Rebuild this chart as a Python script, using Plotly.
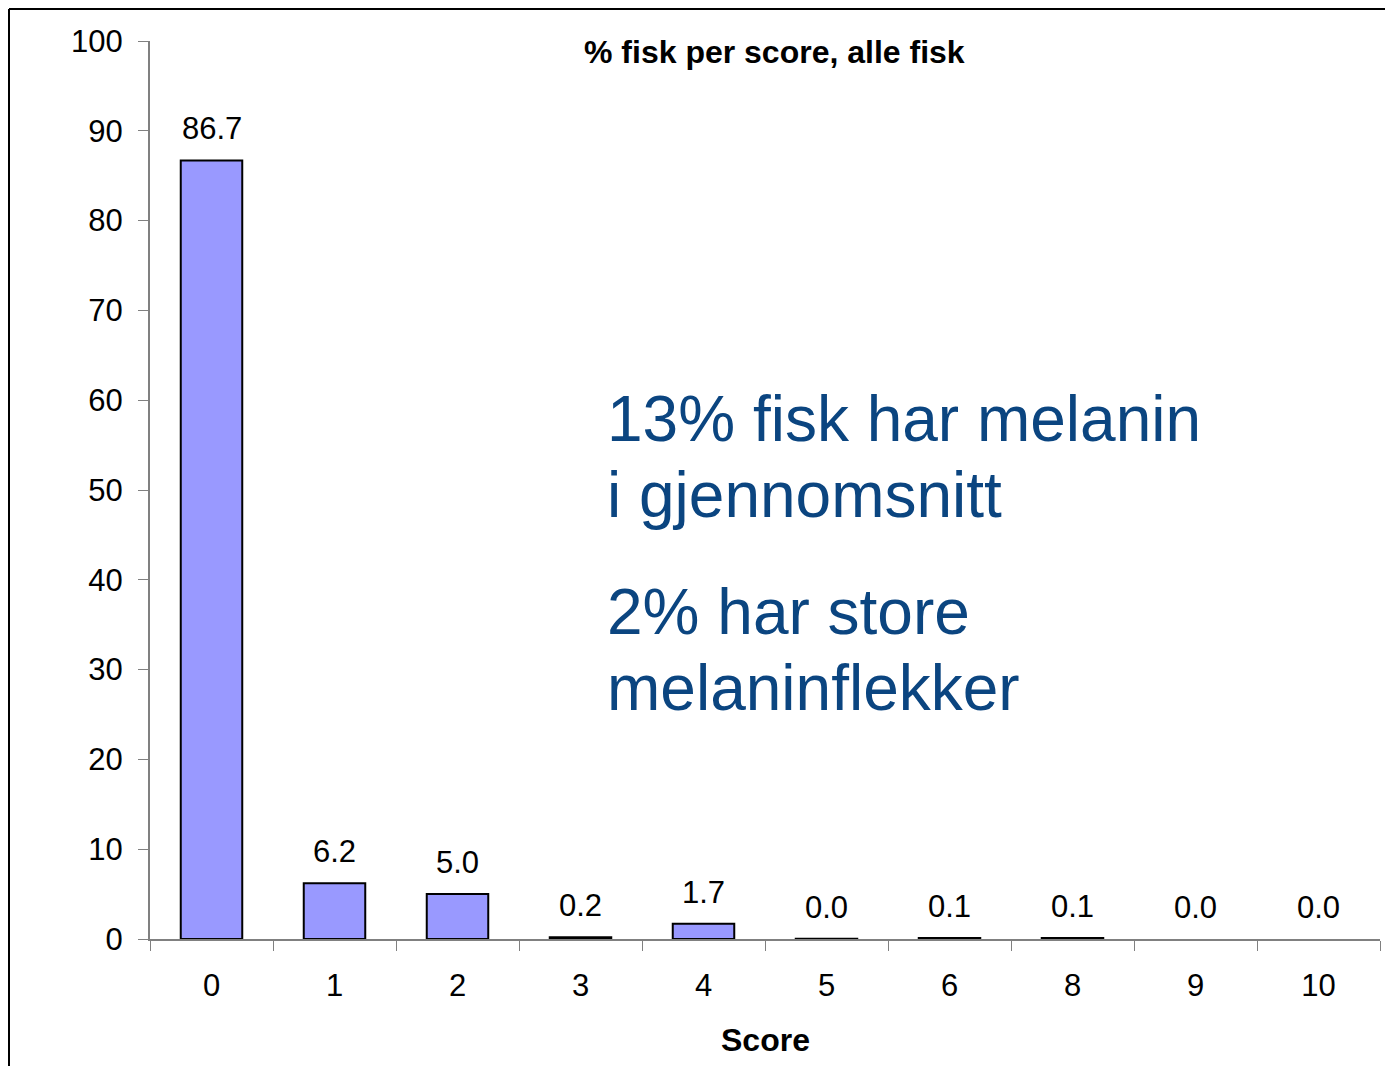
import plotly.graph_objects as go

categories = ["0", "1", "2", "3", "4", "5", "6", "8", "9", "10"]
values = [86.7, 6.2, 5.0, 0.2, 1.7, 0.04, 0.1, 0.1, 0.0, 0.0]
labels = ["86.7", "6.2", "5.0", "0.2", "1.7", "0.0", "0.1", "0.1", "0.0", "0.0"]
y_ticks = [0, 10, 20, 30, 40, 50, 60, 70, 80, 90, 100]

OFF = 8  # page body margin
W, H = 1393 - OFF, 1066 - OFF
L, T = 150 - OFF, 41 - OFF
pw, ph = 1230, 898
R, B = W - L - pw, H - T - ph

def sx(p):  # screen px -> paper x
    return (p - 150) / pw

def sy(p):  # screen px -> paper y
    return (939 - p) / ph

BLUE = "#0B4580"
FONT = "Liberation Sans, Arial"

fig = go.Figure(go.Bar(
    x=categories, y=values,
    marker=dict(color="#9999FF",
                line=dict(color="black", width=[2 if v > 0 else 0 for v in values])),
    width=0.5,
    hoverinfo="x+y",
))

annotations = []
for i, (v, t) in enumerate(zip(values, labels)):
    annotations.append(dict(
        x=i, y=v, xref="x", yref="y", text=t, showarrow=False,
        yanchor="bottom", xanchor="center", yshift=12,
        font=dict(size=31, color="black"),
    ))

annotations += [
    dict(text="<b>% fisk per score, alle fisk</b>", xref="paper", yref="paper",
         x=sx(774), y=sy(52), showarrow=False, font=dict(size=32),
         xanchor="center", yanchor="middle"),
    dict(text="<b>Score</b>", xref="paper", yref="paper",
         x=sx(765), y=sy(1040), showarrow=False, font=dict(size=32),
         xanchor="center", yanchor="middle"),
]
for txt, top in [("13% fisk har melanin", 381), ("i gjennomsnitt", 457),
                 ("2% har store", 574), ("melaninflekker", 650)]:
    annotations.append(dict(
        text=txt, xref="paper", yref="paper", x=sx(605), y=sy(top),
        showarrow=False, align="left", font=dict(size=64, color=BLUE),
        xanchor="left", yanchor="top",
    ))

fig.update_layout(
    width=W, height=H,
    margin=dict(l=L, r=R, t=T, b=B, pad=0),
    plot_bgcolor="white", paper_bgcolor="white",
    font=dict(family=FONT, color="black"),
    showlegend=False,
    bargap=0.5,
    xaxis=dict(
        type="category", range=[-0.5, len(categories) - 0.5],
        tickson="boundaries", ticks="outside", ticklen=10,
        tickcolor="#808080", showline=True, linecolor="#808080", linewidth=2,
        tickfont=dict(size=31), showgrid=False, ticklabelstandoff=18,
    ),
    yaxis=dict(
        range=[0, 100], tickvals=y_ticks, ticks="outside", ticklen=10,
        tickcolor="#808080", showline=True, linecolor="#808080", linewidth=2,
        tickfont=dict(size=31), showgrid=False, zeroline=False,
        ticklabelstandoff=9,
    ),
    annotations=annotations,
    shapes=[
        dict(type="line", xref="paper", yref="paper", x0=sx(9), x1=sx(1400),
             y0=sy(9), y1=sy(9), line=dict(color="black", width=2)),
        dict(type="line", xref="paper", yref="paper", x0=sx(9), x1=sx(9),
             y0=sy(9), y1=sy(1080), line=dict(color="black", width=2)),
    ],
)

fig.write_html("out.html")
